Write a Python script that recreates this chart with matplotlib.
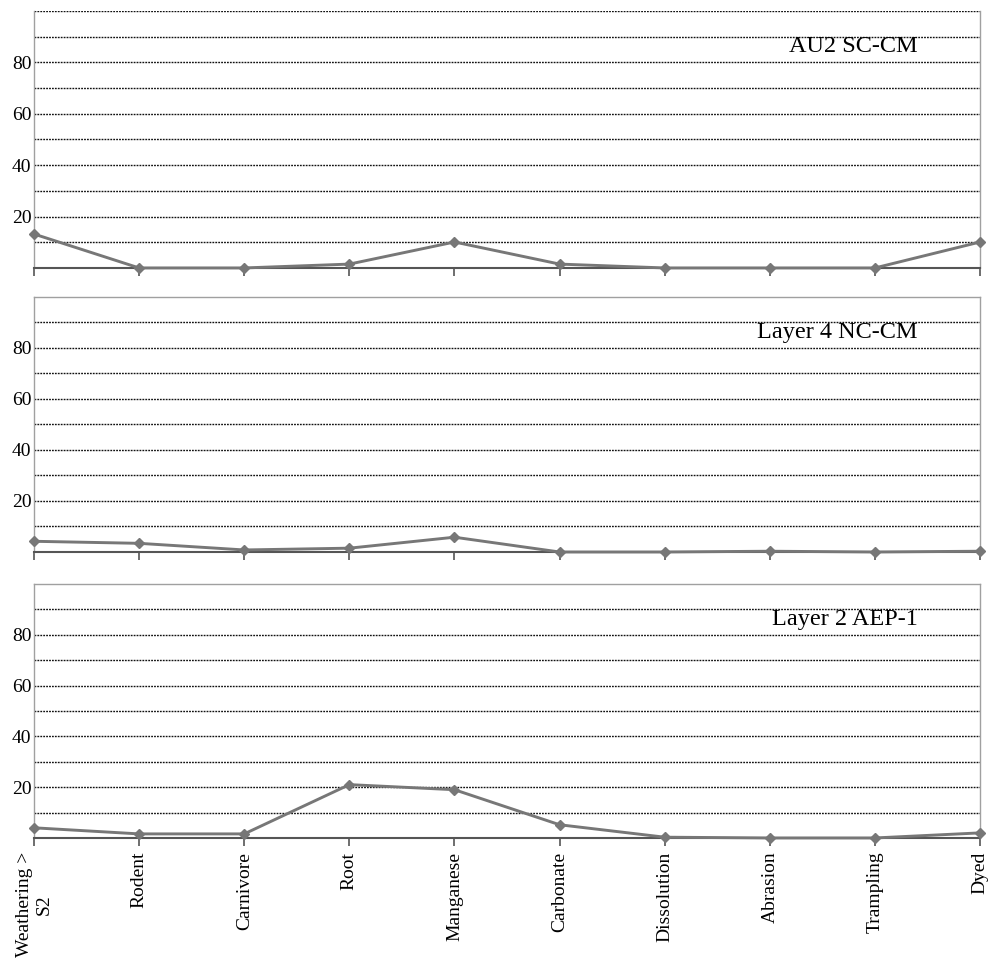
import numpy as np
import matplotlib
matplotlib.use("Agg")
import matplotlib.pyplot as plt

plt.rcParams['font.family'] = ['Liberation Serif', 'DejaVu Serif']

categories = ['Weathering >\nS2', 'Rodent', 'Carnivore', 'Root', 'Manganese',
              'Carbonate', 'Dissolution', 'Abrasion', 'Trampling', 'Dyed']

au2_sc_cm = [13.2, 0, 0, 1.5, 10.1, 1.5, 0, 0, 0, 10.1]
layer4_nc_cm = [4.2, 3.4, 0.8, 1.5, 5.8, 0, 0, 0.3, 0, 0.3]
layer2_aep1 = [4.0, 1.6, 1.6, 21.0, 19.0, 5.2, 0.3, 0, 0, 2.0]

titles = ['AU2 SC-CM', 'Layer 4 NC-CM', 'Layer 2 AEP-1']
series = [au2_sc_cm, layer4_nc_cm, layer2_aep1]

fig = plt.figure(figsize=(9.98, 9.58), dpi=100)

left, right = 0.0341, 0.982
boxes = [(0.7203, 0.9885), (0.4238, 0.690), (0.1253, 0.3904)]

x = np.arange(len(categories))
for i, (vals, title) in enumerate(zip(series, titles)):
    b, t = boxes[i]
    ax = fig.add_axes([left, b, right - left, t - b])
    ax.set_xlim(0, len(categories) - 1)
    ax.set_ylim(0, 100)

    # dotted grid every 10, the first panel also has one at 100
    levels = range(10, 101 if i == 0 else 100, 10)
    for lv in levels:
        ax.axhline(lv, color='#111111', lw=1.0, ls=(0, (1.3, 0.8)), zorder=1)

    ax.plot(x, vals, color='#777777', lw=2.1, marker='D', markersize=4.8,
            zorder=3, clip_on=False)

    for side in ['left', 'right', 'top']:
        ax.spines[side].set_color('#a0a0a0')
        ax.spines[side].set_linewidth(1.0)
    if i == 0:
        ax.spines['top'].set_visible(False)
    ax.spines['bottom'].set_color('#555555')
    ax.spines['bottom'].set_linewidth(1.5)

    ax.set_yticks([20, 40, 60, 80])
    ax.tick_params(axis='y', length=0, pad=2, labelsize=14, colors='black')
    ax.set_xticks(x)
    ax.tick_params(axis='x', direction='out', length=6, width=1.2,
                   color='#555555', pad=4, labelsize=14)
    if i == 2:
        ax.set_xticklabels(categories, rotation=90, va='top', ha='center',
                           multialignment='center')
    else:
        ax.set_xticklabels([])

    ax.text(0.934, 0.86, title, transform=ax.transAxes, ha='right',
            va='center', fontsize=17.5)

fig.savefig('out.png', dpi=100)
